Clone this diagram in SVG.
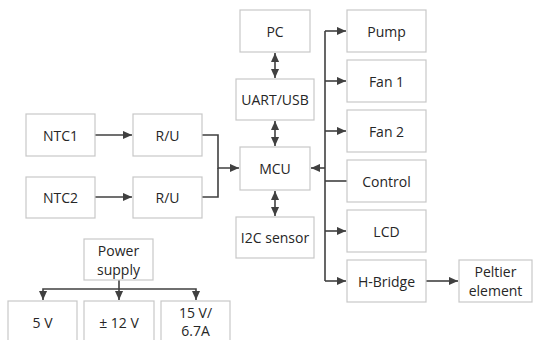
<svg xmlns="http://www.w3.org/2000/svg" width="533" height="340" viewBox="0 0 533 340">
<style>
.box{fill:#fff;stroke:#c8c8c8;stroke-width:1.2}
.t{font-family:"Open Sans","Liberation Sans",sans-serif;font-size:14px;fill:#262626;text-anchor:middle;dominant-baseline:central}
.ln{fill:none;stroke:#404040;stroke-width:1.6}
</style>
<defs>
<marker id="ah" viewBox="0 0 10 10" refX="10" refY="5" markerWidth="9" markerHeight="9" orient="auto-start-reverse" markerUnits="userSpaceOnUse">
<path d="M0,0.5 L10,5 L0,9.5 z" fill="#404040"/>
</marker>
</defs>
<rect width="533" height="340" fill="#fff"/>
<g id="connectors">
<path class="ln" d="M95,135 H132" marker-end="url(#ah)"/>
<path class="ln" d="M95,197 H132" marker-end="url(#ah)"/>
<path class="ln" d="M202,135 H218 V168 H239" marker-end="url(#ah)"/>
<path class="ln" d="M202,197 H218 V168"/>
<path class="ln" d="M275,53 V78" marker-start="url(#ah)" marker-end="url(#ah)"/>
<path class="ln" d="M275,121 V146" marker-start="url(#ah)" marker-end="url(#ah)"/>
<path class="ln" d="M275,191 V216" marker-start="url(#ah)" marker-end="url(#ah)"/>
<path class="ln" d="M325,31 V281"/>
<path class="ln" d="M325,168 H311" marker-end="url(#ah)"/>
<path class="ln" d="M325,31 H346" marker-end="url(#ah)"/>
<path class="ln" d="M325,81 H346" marker-end="url(#ah)"/>
<path class="ln" d="M325,131 H346" marker-end="url(#ah)"/>
<path class="ln" d="M325,181 H347"/>
<path class="ln" d="M325,231 H346" marker-end="url(#ah)"/>
<path class="ln" d="M325,281 H346" marker-end="url(#ah)"/>
<path class="ln" d="M426,281 H458" marker-end="url(#ah)"/>
<path class="ln" d="M119,280 V300" marker-end="url(#ah)"/>
<path class="ln" d="M43,300 V289 H196 V300" marker-start="url(#ah)" marker-end="url(#ah)"/>
</g>
<g id="ntc1"><rect class="box" x="26" y="114" width="69" height="42"/><text class="t" x="60.5" y="135">NTC1</text></g>
<g id="ru1"><rect class="box" x="133" y="114" width="69" height="42"/><text class="t" x="167.5" y="135">R/U</text></g>
<g id="ntc2"><rect class="box" x="26" y="177" width="69" height="41"/><text class="t" x="60.5" y="197">NTC2</text></g>
<g id="ru2"><rect class="box" x="133" y="177" width="69" height="41"/><text class="t" x="167.5" y="197">R/U</text></g>
<g id="pc"><rect class="box" x="240" y="10" width="70" height="42"/><text class="t" x="275" y="31">PC</text></g>
<g id="uart"><rect class="box" x="236" y="79" width="78" height="41"/><text class="t" x="275" y="99.5">UART/USB</text></g>
<g id="mcu"><rect class="box" x="240" y="147" width="70" height="43"/><text class="t" x="275" y="168">MCU</text></g>
<g id="i2c"><rect class="box" x="236" y="217" width="78" height="41"/><text class="t" x="275" y="237.5">I2C sensor</text></g>
<g id="pump"><rect class="box" x="347" y="10" width="79" height="42"/><text class="t" x="386.5" y="31">Pump</text></g>
<g id="fan1"><rect class="box" x="347" y="60" width="79" height="42"/><text class="t" x="386.5" y="81">Fan 1</text></g>
<g id="fan2"><rect class="box" x="347" y="110" width="79" height="42"/><text class="t" x="386.5" y="131">Fan 2</text></g>
<g id="control"><rect class="box" x="347" y="160" width="79" height="42"/><text class="t" x="386.5" y="181">Control</text></g>
<g id="lcd"><rect class="box" x="347" y="210" width="79" height="42"/><text class="t" x="386.5" y="231">LCD</text></g>
<g id="hbridge"><rect class="box" x="347" y="260" width="79" height="42"/><text class="t" x="386.5" y="281">H-Bridge</text></g>
<g id="peltier"><rect class="box" x="459" y="260" width="73" height="42"/><text class="t" x="495.5" y="271.5">Peltier</text><text class="t" x="495.5" y="290.5">element</text></g>
<g id="power"><rect class="box" x="84" y="239" width="69" height="41"/><text class="t" x="118.5" y="250.5">Power</text><text class="t" x="118.5" y="269.5">supply</text></g>
<g id="v5"><rect class="box" x="8" y="301" width="69" height="45"/><text class="t" x="42.5" y="322">5 V</text></g>
<g id="v12"><rect class="box" x="84" y="301" width="70" height="45"/><text class="t" x="119" y="322">± 12 V</text></g>
<g id="v15"><rect class="box" x="161" y="301" width="69" height="45"/><text class="t" x="195.5" y="312.5">15 V/</text><text class="t" x="195.5" y="330.5">6.7A</text></g>
</svg>
